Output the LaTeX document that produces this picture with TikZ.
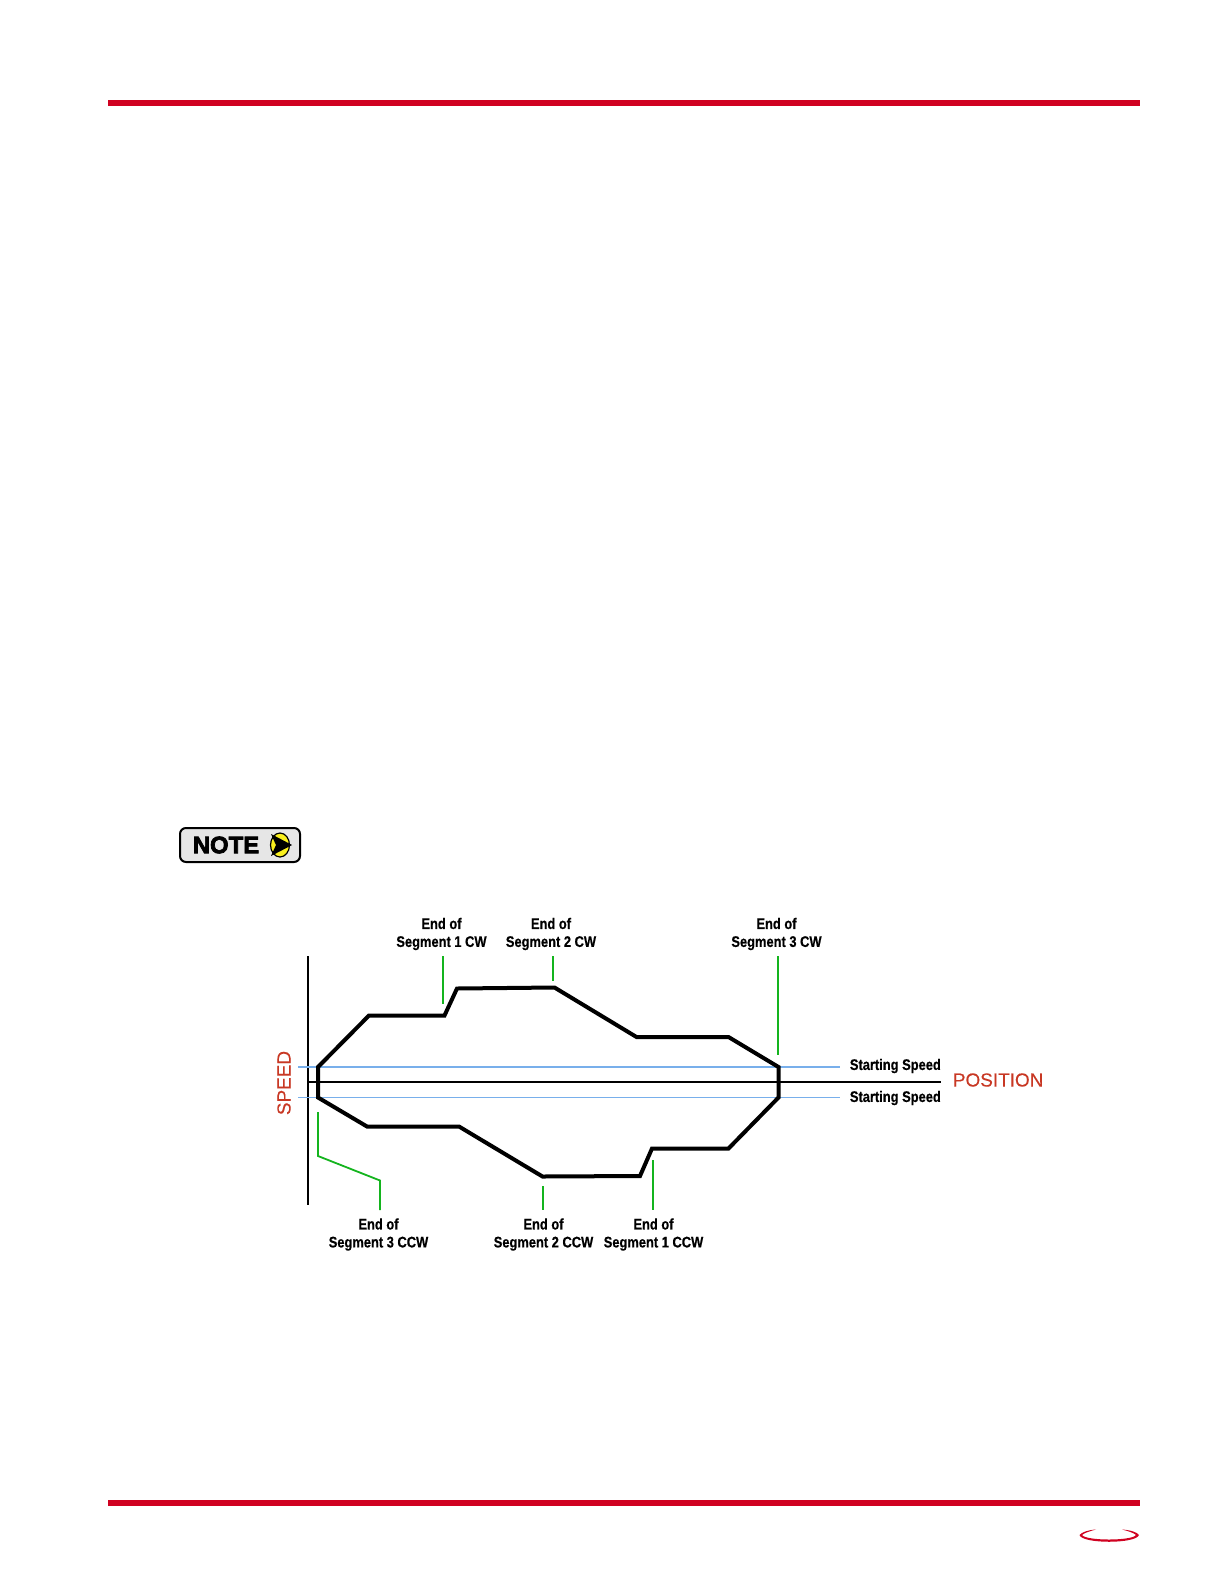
\documentclass[tikz,border=0pt]{standalone}
\usepackage{fontspec}
\usepackage{xcolor}
\usepackage{tikz}
\usetikzlibrary{positioning, calc, shapes.geometric}
\setmainfont{Liberation Sans}
\newfontfamily\narrowfont[BoldFeatures={FakeStretch=0.84, FakeBold=0.5}]{Liberation Sans}
\newfontfamily\axisfont[FakeBold=0.25]{Liberation Sans}
\newfontfamily\badgefont[BoldFeatures={FakeBold=3}]{Liberation Sans}
\definecolor{barred}{RGB}{208, 2, 33}
\definecolor{axisred}{RGB}{200, 56, 36}
\definecolor{tickgreen}{RGB}{20, 180, 30}
\definecolor{startblue}{RGB}{120, 175, 235}
\definecolor{badgegray}{RGB}{230, 230, 230}
\definecolor{badgeyellow}{RGB}{250, 240, 30}

\begin{document}
\begin{tikzpicture}[
    x=0.5bp, y=-0.5bp,
    bar/.style={barred, line width=3bp},
    axisline/.style={black, line width=0.75bp},
    profile/.style={black, line width=2bp, line join=miter},
    tick/.style={tickgreen, line width=1.3bp},
    startline/.style={startblue, line width=#1},
    seglabel/.style={font=\narrowfont\bfseries\fontsize{7.7}{9}\selectfont, align=center, inner sep=0pt},
    speedlabel/.style={font=\narrowfont\bfseries\fontsize{7.7}{9}\selectfont, anchor=west, inner sep=0pt},
    axislabel/.style={font=\axisfont\fontsize{9.5}{11}\selectfont, text=axisred, inner sep=0pt}
]
\useasboundingbox (0, 0) rectangle (1224, 1584);

% Page rules and footer mark
\draw[bar] (108, 103) -- (1140, 103);
\draw[bar] (108, 1503) -- (1140, 1503);
\fill[barred] (1079.5, 1535) .. controls (1082, 1532) and (1088, 1530) .. (1096, 1529.5)
    .. controls (1090, 1531) and (1084, 1533) .. (1082, 1535)
    .. controls (1086, 1541) and (1132, 1541) .. (1136, 1535)
    .. controls (1134, 1533) and (1128, 1531) .. (1122, 1529.5)
    .. controls (1130, 1530) and (1137, 1532) .. (1139, 1535)
    .. controls (1136, 1544) and (1082, 1544) .. (1079.5, 1535) -- cycle;

% Note badge
\node[draw=black, line width=1bp, fill=badgegray, rounded corners=3bp, minimum width=60bp, minimum height=17bp, inner sep=0pt] (badge) at (240, 845) {};
\node[font=\badgefont\bfseries\fontsize{12}{12}\selectfont, inner sep=0pt] (notetext) at (226, 845) {NOTE};
\node[draw=black, line width=0.6bp, fill=badgeyellow, ellipse, minimum width=9.5bp, minimum height=12bp, inner sep=0pt] (noteicon) at (280, 845) {};
\fill[black] (271, 834) -- (292, 845) -- (271, 856) -- (276, 845) -- cycle;

% Axes
\coordinate (yaxtop) at (308, 956);
\coordinate (yaxbot) at (308, 1205);
\coordinate (xaxleft) at (308, 1082);
\coordinate (xaxright) at (941, 1082);
\draw[axisline] (yaxtop) -- (yaxbot);

% Starting speed lines
\coordinate (upleft) at (298, 1067);
\coordinate (upright) at (840, 1067);
\coordinate (lowleft) at (298, 1097.5);
\coordinate (lowright) at (840, 1097.5);
\draw[startline=0.75bp] (upleft) -- (upright);
\draw[startline=0.45bp] (lowleft) -- (lowright);
\draw[axisline] (xaxleft) -- (xaxright);

% Speed profile
\draw[profile] (318, 1067) -- (369, 1015.5) -- (444.5, 1015.5) -- (457, 988.5) -- (554.5, 987.5)
    -- (636.5, 1037) -- (728.5, 1037) -- (778.5, 1067) -- (778.5, 1097.5) -- (728.5, 1148.5)
    -- (652, 1148.5) -- (640, 1176) -- (542.5, 1176.5) -- (459, 1126.5) -- (367, 1126.5)
    -- (318, 1097.5) -- cycle;

% Segment labels
\node[seglabel] (cw1) at (441.5, 934) {End of\\Segment 1 CW};
\node[seglabel] (cw2) at (551, 934) {End of\\Segment 2 CW};
\node[seglabel] (cw3) at (776.5, 934) {End of\\Segment 3 CW};
\node[seglabel] (ccw3) at (378.5, 1234.5) {End of\\Segment 3 CCW};
\node[seglabel] (ccw2) at (543.5, 1234.5) {End of\\Segment 2 CCW};
\node[seglabel] (ccw1) at (653.5, 1234.5) {End of\\Segment 1 CCW};

% Green ticks
\coordinate (t1a) at (443, 956);
\coordinate (t1b) at (443, 1004);
\coordinate (t2a) at (553, 956);
\coordinate (t2b) at (553, 981);
\coordinate (t3a) at (778, 956);
\coordinate (t3b) at (778, 1055);
\coordinate (t4a) at (543, 1186);
\coordinate (t4b) at (543, 1210);
\coordinate (t5a) at (653, 1160);
\coordinate (t5b) at (653, 1210);
\foreach \i/\j in {t1a/t1b, t2a/t2b, t3a/t3b, t4a/t4b, t5a/t5b} {
    \draw[tick] (\i) -- (\j);
}
\coordinate (t6a) at (318, 1112);
\coordinate (t6b) at (318, 1156);
\coordinate (t6c) at (380, 1180.5);
\coordinate (t6d) at (380, 1210);
\draw[tick, line width=0.9bp] (t6a) -- (t6b) -- (t6c) -- (t6d);

% Axis and speed annotations
\node[speedlabel] (startup) at (849.5, 1066) {Starting Speed};
\node[speedlabel] (startlow) at (849.5, 1098) {Starting Speed};
\node[axislabel, anchor=west] (position) at (952.5, 1080) {POSITION};
\node[axislabel, rotate=90] (speed) at (284, 1083) {SPEED};

\end{tikzpicture}
\end{document}
